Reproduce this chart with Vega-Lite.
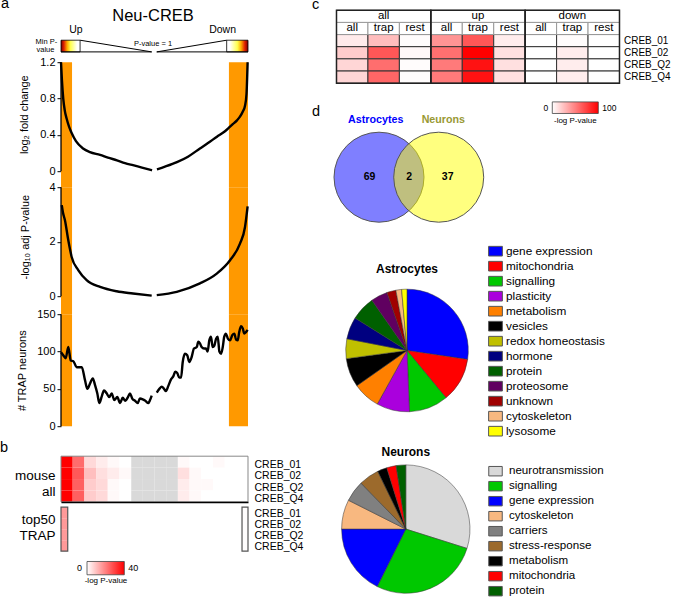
{
"$schema":"https://vega.github.io/schema/vega-lite/v6.json",
"padding":{"left":0,"top":-4.8,"right":0,"bottom":0},
"config":{
 "font":"Liberation Sans",
 "view":{"stroke":null},
 "axis":{"grid":false,"labelFont":"Liberation Sans","titleFont":"Liberation Sans","labelColor":"black","titleColor":"black","tickColor":"black","domainColor":"black","titleFontWeight":"normal","labelOverlap":false},
 "legend":{"labelFont":"Liberation Sans","titleFont":"Liberation Sans","labelColor":"black","titleColor":"black","titleFontWeight":"normal"},
 "text":{"font":"Liberation Sans","color":"black"},
 "title":{"font":"Liberation Sans","fontSize":14.5,"fontWeight":"normal","anchor":"start","frame":"group","color":"black","baseline":"alphabetic","offset":0}
},
"spacing":275.5,
"bounds":"flush",
"resolve":{"scale":{"x":"independent","y":"independent","color":"independent","fill":"independent","theta":"independent"},"axis":{"x":"independent","y":"independent"},"legend":{"color":"independent","fill":"independent"}},
"hconcat":[
{
"vconcat":[
 {
  "width":187,"height":52,
  "title":{"text":"a","dx":-60,"offset":-3.5},
  "layer":[
   {"data":{"values":[{"x0":0,"x1":10.2,"y0":0.198,"y1":0.423}]},
    "mark":{"type":"rect","stroke":"black","strokeWidth":0.8,"fill":{"gradient":"linear","x1":0,"y1":0,"x2":1,"y2":0,"stops":[{"offset":0,"color":"#7a0000"},{"offset":0.15,"color":"#e02000"},{"offset":0.33,"color":"#ffb000"},{"offset":0.5,"color":"#ffff50"},{"offset":0.85,"color":"#ffffff"},{"offset":1,"color":"#ffffff"}]}},
    "encoding":{"x":{"field":"x0","type":"quantitative","scale":{"domain":[0,100],"nice":false},"axis":null},"x2":{"field":"x1"},"y":{"field":"y0","type":"quantitative","scale":{"domain":[0,1],"nice":false},"axis":null},"y2":{"field":"y1"}}},
   {"data":{"values":[{"x0":88.6,"x1":100,"y0":0.198,"y1":0.423}]},
    "mark":{"type":"rect","stroke":"black","strokeWidth":0.8,"fill":{"gradient":"linear","x1":0,"y1":0,"x2":1,"y2":0,"stops":[{"offset":0,"color":"#ffffff"},{"offset":0.15,"color":"#ffffff"},{"offset":0.5,"color":"#ffff50"},{"offset":0.67,"color":"#ffb000"},{"offset":0.85,"color":"#e02000"},{"offset":1,"color":"#7a0000"}]}},
    "encoding":{"x":{"field":"x0","type":"quantitative"},"x2":{"field":"x1"},"y":{"field":"y0","type":"quantitative"},"y2":{"field":"y1"}}},
   {"data":{"values":[{"seg":"L1","x":10.2,"y":0.423},{"seg":"L1","x":48.5,"y":0.198},{"seg":"L2","x":0,"y":0.198},{"seg":"L2","x":48.5,"y":0.198},{"seg":"R1","x":51.2,"y":0.198},{"seg":"R1","x":88.6,"y":0.423},{"seg":"R2","x":51.2,"y":0.198},{"seg":"R2","x":100,"y":0.198}]},
    "mark":{"type":"line","color":"black","strokeWidth":1},
    "encoding":{"x":{"field":"x","type":"quantitative"},"y":{"field":"y","type":"quantitative"},"detail":{"field":"seg"}}},
   {"data":{"values":[{"t":"Neu-CREB","x":49.2,"y":0.885}]},"mark":{"type":"text","fontSize":16.5,"baseline":"middle"},
    "encoding":{"x":{"field":"x","type":"quantitative"},"y":{"field":"y","type":"quantitative"},"text":{"field":"t"}}},
   {"data":{"values":[{"t":"Up","x":8,"y":0.615},{"t":"Down","x":86.4,"y":0.615}]},"mark":{"type":"text","fontSize":10.5,"baseline":"middle"},
    "encoding":{"x":{"field":"x","type":"quantitative"},"y":{"field":"y","type":"quantitative"},"text":{"field":"t"}}},
   {"data":{"values":[{"t":"P-value = 1","x":49.2,"y":0.346},{"t":"Min P-","x":-7.8,"y":0.39},{"t":"value","x":-8.3,"y":0.23}]},"mark":{"type":"text","fontSize":7.5,"baseline":"middle"},
    "encoding":{"x":{"field":"x","type":"quantitative"},"y":{"field":"y","type":"quantitative"},"text":{"field":"t"}}}
  ]
 },
 {
  "width":187,"height":125,
  "layer":[
   {"data":{"values":[{"s":"up","x0":0,"x1":5.9},{"s":"down","x0":89.8,"x1":100}]},"mark":{"type":"rect","color":"#ff9900"},
    "encoding":{"x":{"field":"x0","type":"quantitative","scale":{"domain":[0,100],"nice":false},"axis":null},"x2":{"field":"x1"}}},
   {"data":{"values":[{}]},"mark":{"type":"rule","color":"black","strokeWidth":1.3},
    "encoding":{"x":{"datum":0,"type":"quantitative"},"y":{"datum":0,"type":"quantitative"},"y2":{"datum":1.2}}},
   {"data":{"values":[{"side":"up","x":0,"y":1.2},{"side":"up","x":0.5,"y":1.0},{"side":"up","x":1.2,"y":0.8},{"side":"up","x":2,"y":0.67},{"side":"up","x":3,"y":0.58},{"side":"up","x":4.3,"y":0.49},{"side":"up","x":5.7,"y":0.42},{"side":"up","x":8,"y":0.33},{"side":"up","x":11.8,"y":0.25},{"side":"up","x":15.5,"y":0.21},{"side":"up","x":20.9,"y":0.18},{"side":"up","x":25.1,"y":0.15},{"side":"up","x":29.9,"y":0.12},{"side":"up","x":34.2,"y":0.09},{"side":"up","x":38.5,"y":0.066},{"side":"up","x":43.3,"y":0.04},{"side":"up","x":48.7,"y":0.01},{"side":"down","x":51.3,"y":0.02},{"side":"down","x":55.6,"y":0.05},{"side":"down","x":62,"y":0.1},{"side":"down","x":67.9,"y":0.16},{"side":"down","x":74.3,"y":0.25},{"side":"down","x":78.6,"y":0.31},{"side":"down","x":83.4,"y":0.38},{"side":"down","x":87.7,"y":0.44},{"side":"down","x":90.4,"y":0.49},{"side":"down","x":92,"y":0.52},{"side":"down","x":94.1,"y":0.56},{"side":"down","x":95.7,"y":0.6},{"side":"down","x":97.3,"y":0.66},{"side":"down","x":98.4,"y":0.72},{"side":"down","x":99.2,"y":0.85},{"side":"down","x":99.8,"y":1.2}]},
    "mark":{"type":"line","color":"black","strokeWidth":2.4,"interpolate":"monotone"},
    "encoding":{"x":{"field":"x","type":"quantitative"},"y":{"field":"y","type":"quantitative","scale":{"domain":[-0.176,1.2],"nice":false},"axis":{"values":[0,0.4,0.8,1.2],"format":".1~f","domain":false,"tickSize":4,"labelFontSize":11,"labelPadding":2,"title":"log₂ fold change","titleFontSize":11,"titleX":-37,"titleY":52,"titleBaseline":"middle","titleAlign":"center","titleAngle":-90}},"detail":{"field":"side"}}}
  ]
 },
 {
  "width":187,"height":127,
  "layer":[
   {"data":{"values":[{"s":"up","x0":0,"x1":5.9},{"s":"down","x0":89.8,"x1":100}]},"mark":{"type":"rect","color":"#ff9900"},
    "encoding":{"x":{"field":"x0","type":"quantitative","scale":{"domain":[0,100],"nice":false},"axis":null},"x2":{"field":"x1"}}},
   {"data":{"values":[{}]},"mark":{"type":"rule","color":"black","strokeWidth":1.3},
    "encoding":{"x":{"datum":0,"type":"quantitative"},"y":{"datum":0,"type":"quantitative"},"y2":{"datum":4}}},
   {"data":{"values":[{"side":"up","x":0.4,"y":3.34},{"side":"up","x":1.1,"y":3.05},{"side":"up","x":2.1,"y":2.79},{"side":"up","x":3.9,"y":2.05},{"side":"up","x":5.7,"y":1.44},{"side":"up","x":9.3,"y":0.95},{"side":"up","x":13.7,"y":0.59},{"side":"up","x":20.9,"y":0.34},{"side":"up","x":29.8,"y":0.18},{"side":"up","x":38.5,"y":0.1},{"side":"up","x":48.5,"y":0.02},{"side":"down","x":51.2,"y":0.04},{"side":"down","x":61.9,"y":0.16},{"side":"down","x":74.3,"y":0.47},{"side":"down","x":83.3,"y":0.83},{"side":"down","x":90.4,"y":1.32},{"side":"down","x":95.7,"y":1.93},{"side":"down","x":98.4,"y":2.54},{"side":"down","x":99.8,"y":3.3}]},
    "mark":{"type":"line","color":"black","strokeWidth":2.4,"interpolate":"monotone"},
    "encoding":{"x":{"field":"x","type":"quantitative"},"y":{"field":"y","type":"quantitative","scale":{"domain":[-0.66,4],"nice":false},"axis":{"values":[0,1,2,3,4],"domain":false,"tickSize":4,"labelFontSize":11,"labelPadding":2,"title":"-log₁₀ adj P-value","titleFontSize":11,"titleX":-35.5,"titleY":49.5,"titleBaseline":"middle","titleAlign":"center","titleAngle":-90}},"detail":{"field":"side"}}}
  ]
 },
 {
  "width":187,"height":142,
  "layer":[
   {"data":{"values":[{"s":"up","x0":0,"x1":5.9},{"s":"down","x0":89.8,"x1":100}]},"mark":{"type":"rect","color":"#ff9900"},
    "encoding":{"x":{"field":"x0","type":"quantitative","scale":{"domain":[0,100],"nice":false},"axis":null},"x2":{"field":"x1"},"y":{"datum":0,"type":"quantitative"},"y2":{"datum":150}}},
   {"data":{"values":[{}]},"mark":{"type":"rule","color":"black","strokeWidth":1.3},
    "encoding":{"x":{"datum":0,"type":"quantitative"},"y":{"datum":0,"type":"quantitative"},"y2":{"datum":150}}},
   {"data":{"values":[{"side":"up","x":0,"y":99},{"side":"up","x":1.2,"y":95},{"side":"up","x":2.5,"y":91},{"side":"up","x":3.9,"y":106},{"side":"up","x":5.2,"y":88},{"side":"up","x":6.6,"y":87},{"side":"up","x":8.4,"y":79},{"side":"up","x":11.1,"y":79},{"side":"up","x":12.8,"y":62},{"side":"up","x":14.1,"y":50},{"side":"up","x":15.5,"y":57},{"side":"up","x":17,"y":64},{"side":"up","x":18.2,"y":55},{"side":"up","x":19.4,"y":44},{"side":"up","x":20.5,"y":31},{"side":"up","x":21.8,"y":40},{"side":"up","x":23,"y":48},{"side":"up","x":24.4,"y":44},{"side":"up","x":25.8,"y":39},{"side":"up","x":27.1,"y":44},{"side":"up","x":28.5,"y":35},{"side":"up","x":30.1,"y":39},{"side":"up","x":31.6,"y":31},{"side":"up","x":33,"y":38},{"side":"up","x":34.4,"y":34},{"side":"up","x":35.8,"y":39},{"side":"up","x":36.9,"y":44},{"side":"up","x":38.1,"y":37},{"side":"up","x":39.6,"y":34},{"side":"up","x":41,"y":31},{"side":"up","x":42.2,"y":37},{"side":"up","x":43.7,"y":36},{"side":"up","x":45.1,"y":34},{"side":"up","x":46.7,"y":31},{"side":"up","x":47.6,"y":35},{"side":"up","x":48.5,"y":41},{"side":"down","x":51.2,"y":45},{"side":"down","x":52.6,"y":50},{"side":"down","x":53.9,"y":53},{"side":"down","x":55.1,"y":50},{"side":"down","x":56.1,"y":47},{"side":"down","x":57.4,"y":54},{"side":"down","x":58.7,"y":62},{"side":"down","x":60.1,"y":67},{"side":"down","x":61.1,"y":73},{"side":"down","x":62.2,"y":71},{"side":"down","x":63.3,"y":65},{"side":"down","x":64.2,"y":65},{"side":"down","x":65.1,"y":86},{"side":"down","x":66.3,"y":97},{"side":"down","x":67.5,"y":95},{"side":"down","x":68.6,"y":86},{"side":"down","x":69.9,"y":93},{"side":"down","x":71.1,"y":104},{"side":"down","x":72.6,"y":106},{"side":"down","x":73.4,"y":113},{"side":"down","x":74.3,"y":111},{"side":"down","x":75.2,"y":106},{"side":"down","x":76.5,"y":104},{"side":"down","x":77.5,"y":104},{"side":"down","x":78.4,"y":100},{"side":"down","x":79.3,"y":115},{"side":"down","x":80.2,"y":120},{"side":"down","x":81.1,"y":106},{"side":"down","x":82,"y":108},{"side":"down","x":82.9,"y":117},{"side":"down","x":83.8,"y":120},{"side":"down","x":84.7,"y":100},{"side":"down","x":85.6,"y":97},{"side":"down","x":86.5,"y":106},{"side":"down","x":87.3,"y":120},{"side":"down","x":88.2,"y":124},{"side":"down","x":89.3,"y":117},{"side":"down","x":90.4,"y":115},{"side":"down","x":91.6,"y":122},{"side":"down","x":92.7,"y":124},{"side":"down","x":93.6,"y":116},{"side":"down","x":94.5,"y":115},{"side":"down","x":95.3,"y":126},{"side":"down","x":96.3,"y":134},{"side":"down","x":97.2,"y":131},{"side":"down","x":98,"y":124},{"side":"down","x":98.9,"y":126},{"side":"down","x":99.8,"y":129}]},
    "mark":{"type":"line","color":"black","strokeWidth":2.4,"interpolate":"monotone"},
    "encoding":{"x":{"field":"x","type":"quantitative"},"y":{"field":"y","type":"quantitative","scale":{"domain":[-40.2,150],"nice":false},"axis":{"values":[0,50,100,150],"domain":false,"tickSize":4,"labelFontSize":11,"labelPadding":2,"title":"# TRAP neurons","titleFontSize":11,"titleX":-39,"titleY":56,"titleBaseline":"middle","titleAlign":"center","titleAngle":-90}},"detail":{"field":"side"}}}
  ]
 },
 {
  "width":187,"height":45.7,
  "title":{"text":"b","dx":-61,"offset":0.5},
  "layer":[
   {"data":{"name":"b1"},"transform":[{"filter":{"field":"v","valid":false}}],"mark":{"type":"rect","color":"#d9d9d9"},
    "encoding":{"x":{"field":"c","type":"ordinal","scale":{"domain":[1,2,3,4,5,6,7,8,9,10,11,12,13,14,15,16],"paddingInner":0,"paddingOuter":0},"axis":{"labels":false,"ticks":false,"title":null,"domainColor":"black","domainWidth":1.5,"zindex":2}},
     "y":{"field":"r","type":"nominal","scale":{"domain":["CREB_01","CREB_02","CREB_Q2","CREB_Q4"],"paddingInner":0,"paddingOuter":0},"axis":{"orient":"left","labels":false,"ticks":false,"domain":false,"title":["mouse","all"],"titleAngle":0,"titleAlign":"right","titleBaseline":"middle","titleX":-6,"titleY":19,"titleFontSize":13.5,"titleLineHeight":16}}}},
   {"data":{"name":"b1"},"transform":[{"filter":{"field":"v","valid":true}}],"mark":{"type":"rect"},
    "encoding":{"x":{"field":"c","type":"ordinal","axis":{"labels":false,"ticks":false,"title":null,"domainColor":"black","domainWidth":1.5,"zindex":2}},
     "y":{"field":"r","type":"nominal","axis":{"orient":"right","ticks":false,"domain":false,"labelFontSize":10.5,"labelPadding":6,"title":null,"labelOffset":3}},
     "color":{"field":"v","type":"quantitative","scale":{"domain":[0,40],"range":["#ffffff","#ff0000"],"interpolate":"rgb"},"legend":null}}},
   {"data":{"values":[{}]},"mark":{"type":"rect","filled":false,"color":"#888","strokeWidth":1},"encoding":{}}
  ],
  "resolve":{"axis":{"y":"independent"}}
 },
 {
  "width":187,"height":49,
  "layer":[
   {"data":{"values":[{"r":"CREB_01","from":0,"to":3.6,"v":16},{"r":"CREB_02","from":0,"to":3.6,"v":16},{"r":"CREB_Q2","from":0,"to":3.6,"v":16},{"r":"CREB_Q4","from":0,"to":3.6,"v":16},{"r":"CREB_01","from":96.8,"to":100,"v":0.3},{"r":"CREB_02","from":96.8,"to":100,"v":0.3},{"r":"CREB_Q2","from":96.8,"to":100,"v":0.3},{"r":"CREB_Q4","from":96.8,"to":100,"v":0.3}]},
    "mark":{"type":"rect"},
    "encoding":{"x":{"field":"from","type":"quantitative","scale":{"domain":[0,100],"nice":false},"axis":null},"x2":{"field":"to"},
     "y":{"field":"r","type":"nominal","scale":{"domain":["CREB_01","CREB_02","CREB_Q2","CREB_Q4"],"paddingInner":0,"paddingOuter":0.2273,"align":1},"axis":{"orient":"right","ticks":false,"domain":false,"labelFontSize":10.5,"labelPadding":6,"title":null,"labelOffset":1}},
     "color":{"field":"v","type":"quantitative","scale":{"domain":[0,40],"range":["#ffffff","#ff0000"],"interpolate":"rgb"},
      "legend":{"orient":"none","legendX":24,"legendY":59.3,"direction":"horizontal","gradientLength":37.3,"gradientThickness":13.3,"values":[0,40],"title":"-log P-value","titleOrient":"bottom","titleFontSize":8,"titlePadding":2,"titleAnchor":"middle","labelFontSize":9,"padding":0,"gradientStrokeColor":"#444","gradientStrokeWidth":0.8,
       "encode":{"labels":{"update":{"align":{"signal":"datum.value === 0 ? 'right' : 'left'"},"dx":{"signal":"datum.value === 0 ? -5 : 4"},"baseline":{"value":"middle"},"y":{"value":6.6}}}}}}}},
   {"data":{"values":[{"from":0,"to":3.6,"r0":"CREB_01","r1":"CREB_Q4"},{"from":96.8,"to":100,"r0":"CREB_01","r1":"CREB_Q4"}]},
    "mark":{"type":"rect","filled":false,"color":"#555","strokeWidth":1.2},
    "encoding":{"x":{"field":"from","type":"quantitative"},"x2":{"field":"to"},
     "y":{"field":"r0","type":"nominal","bandPosition":0,"axis":{"orient":"left","labels":false,"ticks":false,"domain":false,"title":["top50","TRAP"],"titleAngle":0,"titleAlign":"right","titleBaseline":"middle","titleX":-6,"titleY":17.5,"titleFontSize":13.5,"titleLineHeight":16}},
     "y2":{"field":"r1","bandPosition":1}}}
  ],
  "resolve":{"axis":{"y":"independent"}}
 }
],
"spacing":0,"bounds":"flush",
"resolve":{"scale":{"x":"independent","y":"independent","color":"independent","fill":"independent","theta":"independent"},"axis":{"x":"independent","y":"independent"},"legend":{"color":"independent","fill":"independent"}}
},
{
"vconcat":[
 {
  "width":283,"height":73,
  "title":{"text":"c","dx":-24.5,"offset":-3.5},
  "layer":[
   {"data":{"values":[
     {"col":"all|all","r":"CREB_01","v":8},{"col":"all|trap","r":"CREB_01","v":26},{"col":"all|rest","r":"CREB_01","v":1},{"col":"up|all","r":"CREB_01","v":42},{"col":"up|trap","r":"CREB_01","v":66},{"col":"up|rest","r":"CREB_01","v":7},{"col":"down|all","r":"CREB_01","v":0},{"col":"down|trap","r":"CREB_01","v":1},{"col":"down|rest","r":"CREB_01","v":0},
     {"col":"all|all","r":"CREB_02","v":20},{"col":"all|trap","r":"CREB_02","v":66},{"col":"all|rest","r":"CREB_02","v":3},{"col":"up|all","r":"CREB_02","v":56},{"col":"up|trap","r":"CREB_02","v":100},{"col":"up|rest","r":"CREB_02","v":12},{"col":"down|all","r":"CREB_02","v":0},{"col":"down|trap","r":"CREB_02","v":7},{"col":"down|rest","r":"CREB_02","v":0},
     {"col":"all|all","r":"CREB_Q2","v":16},{"col":"all|trap","r":"CREB_Q2","v":57},{"col":"all|rest","r":"CREB_Q2","v":1},{"col":"up|all","r":"CREB_Q2","v":52},{"col":"up|trap","r":"CREB_Q2","v":93},{"col":"up|rest","r":"CREB_Q2","v":12},{"col":"down|all","r":"CREB_Q2","v":0},{"col":"down|trap","r":"CREB_Q2","v":7},{"col":"down|rest","r":"CREB_Q2","v":0},
     {"col":"all|all","r":"CREB_Q4","v":16},{"col":"all|trap","r":"CREB_Q4","v":60},{"col":"all|rest","r":"CREB_Q4","v":1},{"col":"up|all","r":"CREB_Q4","v":52},{"col":"up|trap","r":"CREB_Q4","v":93},{"col":"up|rest","r":"CREB_Q4","v":12},{"col":"down|all","r":"CREB_Q4","v":0},{"col":"down|trap","r":"CREB_Q4","v":7},{"col":"down|rest","r":"CREB_Q4","v":0}]},
    "mark":{"type":"rect","stroke":"#333","strokeWidth":1},
    "encoding":{"x":{"field":"col","type":"nominal","scale":{"domain":["all|all","all|trap","all|rest","up|all","up|trap","up|rest","down|all","down|trap","down|rest"],"paddingInner":0,"paddingOuter":0},"axis":null},
     "y":{"field":"r","type":"nominal","scale":{"domain":["g","h","CREB_01","CREB_02","CREB_Q2","CREB_Q4"],"paddingInner":0,"paddingOuter":0},"axis":{"orient":"right","values":["CREB_01","CREB_02","CREB_Q2","CREB_Q4"],"ticks":false,"domain":false,"labelFontSize":10,"labelPadding":4,"title":null}},
     "color":{"field":"v","type":"quantitative","scale":{"domain":[0,100],"range":["#ffffff","#ff0000"],"interpolate":"rgb"},
      "legend":{"orient":"none","legendX":215.8,"legendY":91.7,"direction":"horizontal","gradientLength":46,"gradientThickness":11.6,"values":[0,100],"title":"-log P-value","titleOrient":"bottom","titleFontSize":8,"titlePadding":3,"titleAnchor":"middle","labelFontSize":8.5,"padding":0,"gradientStrokeColor":"#444","gradientStrokeWidth":0.8,
       "encode":{"labels":{"update":{"align":{"signal":"datum.value === 0 ? 'right' : 'left'"},"dx":{"signal":"datum.value === 0 ? -4 : 4"},"baseline":{"value":"middle"},"y":{"value":5.8}}}}}}}},
   {"data":{"values":[{"col":"all|all","r":"h","lab":"all"},{"col":"all|trap","r":"h","lab":"trap"},{"col":"all|rest","r":"h","lab":"rest"},{"col":"up|all","r":"h","lab":"all"},{"col":"up|trap","r":"h","lab":"trap"},{"col":"up|rest","r":"h","lab":"rest"},{"col":"down|all","r":"h","lab":"all"},{"col":"down|trap","r":"h","lab":"trap"},{"col":"down|rest","r":"h","lab":"rest"}]},
    "layer":[
     {"mark":{"type":"rect","fill":"white","stroke":"#999","strokeWidth":1},
      "encoding":{"x":{"field":"col","type":"nominal","scale":{"domain":["all|all","all|trap","all|rest","up|all","up|trap","up|rest","down|all","down|trap","down|rest"],"paddingInner":0,"paddingOuter":0},"axis":null},"y":{"field":"r","type":"nominal"}}},
     {"mark":{"type":"text","fontSize":11.5,"baseline":"middle"},
      "encoding":{"x":{"field":"col","type":"nominal","axis":null},"y":{"field":"r","type":"nominal"},"text":{"field":"lab"}}}
    ]},
   {"data":{"values":[{"g":"all","r":"g"},{"g":"up","r":"g"},{"g":"down","r":"g"}]},
    "layer":[
     {"mark":{"type":"rect","fill":"white","stroke":"#999","strokeWidth":1},
      "encoding":{"x":{"field":"g","type":"nominal","sort":null,"scale":{"domain":["all","up","down"],"paddingInner":0,"paddingOuter":0},"axis":null},"y":{"field":"r","type":"nominal"}}},
     {"mark":{"type":"text","fontSize":11.5,"baseline":"middle"},
      "encoding":{"x":{"field":"g","type":"nominal","sort":null,"axis":null},"y":{"field":"r","type":"nominal"},"text":{"field":"g"}}},
     {"mark":{"type":"rect","filled":false,"color":"#222","strokeWidth":1.5},
      "encoding":{"x":{"field":"g","type":"nominal","sort":null,"axis":null}}}
    ]}
  ],
  "resolve":{"scale":{"x":"independent"}}
 },
 {
  "width":160,"height":110,
  "title":{"text":"d","dx":-24.5,"offset":-6.3},
  "layer":[
   {"data":{"values":[{"set":"Astrocytes","x":0,"y":0.5},{"set":"Neurons","x":1,"y":0.5}]},
    "mark":{"type":"point","shape":"circle","filled":true,"size":8100,"opacity":1,"fillOpacity":0.5,"stroke":"#555","strokeWidth":1,"strokeOpacity":1},
    "encoding":{"x":{"field":"x","type":"quantitative","scale":{"domain":[-0.712,1.968],"nice":false,"zero":false},"axis":null},"y":{"field":"y","type":"quantitative","scale":{"domain":[0,1],"nice":false},"axis":null},
     "fill":{"field":"set","type":"nominal","scale":{"domain":["Astrocytes","Neurons"],"range":["#0000ff","#ffff00"]},"legend":null}}},
   {"data":{"values":[{"n":"69","x":-0.16,"y":0.5},{"n":"2","x":0.505,"y":0.5},{"n":"37","x":1.15,"y":0.5}]},
    "mark":{"type":"text","fontSize":10.5,"fontWeight":"bold","baseline":"middle"},
    "encoding":{"x":{"field":"x","type":"quantitative"},"y":{"field":"y","type":"quantitative"},"text":{"field":"n"}}},
   {"data":{"values":[{"set":"Astrocytes","x":-0.055,"y":1.023},{"set":"Neurons","x":1.077,"y":1.023}]},
    "mark":{"type":"text","fontSize":10.7,"fontWeight":"bold","baseline":"middle"},
    "encoding":{"x":{"field":"x","type":"quantitative"},"y":{"field":"y","type":"quantitative"},"text":{"field":"set"},
     "color":{"field":"set","type":"nominal","scale":{"domain":["Astrocytes","Neurons"],"range":["#0000ff","#999933"]},"legend":null}}}
  ]
 },
 {
  "width":141,"height":158.6,
  "title":{"text":"Astrocytes","anchor":"middle","fontSize":12,"fontWeight":"bold","baseline":"middle","offset":-37.5},
  "data":{"values":[
   {"cat":"gene expression","p":27.3,"k":1},{"cat":"mitochondria","p":11.7,"k":2},{"cat":"signalling","p":10.3,"k":3},{"cat":"plasticity","p":8.7,"k":4},{"cat":"metabolism","p":7.2,"k":5},{"cat":"vesicles","p":7.6,"k":6},{"cat":"redox homeostasis","p":5.2,"k":7},{"cat":"hormone","p":5.8,"k":8},{"cat":"protein","p":6.4,"k":9},{"cat":"proteosome","p":4.4,"k":10},{"cat":"unknown","p":2.4,"k":11},{"cat":"cytoskeleton","p":1.5,"k":12},{"cat":"lysosome","p":1.4,"k":13}]},
  "mark":{"type":"arc","outerRadius":61.3,"stroke":"#333","strokeWidth":0.5},
  "encoding":{"theta":{"field":"p","type":"quantitative","stack":true},"order":{"field":"k","type":"quantitative"},
   "color":{"field":"cat","type":"nominal","sort":null,"scale":{"domain":["gene expression","mitochondria","signalling","plasticity","metabolism","vesicles","redox homeostasis","hormone","protein","proteosome","unknown","cytoskeleton","lysosome"],"range":["#0000ff","#ff0000","#00c800","#aa00dd","#ff8000","#000000","#c0c000","#000080","#006000","#600060","#a00000","#f8b880","#ffff00"]},
    "legend":{"orient":"none","legendX":151.5,"legendY":-27.5,"title":null,"symbolType":"M-1,-0.7L1,-0.7L1,0.7L-1,0.7Z","symbolSize":190,"symbolStrokeColor":"#555","symbolStrokeWidth":1,"labelFontSize":11.8,"labelOffset":3,"rowPadding":0,"padding":0}}}
 },
 {
  "width":138.6,"height":119.8,
  "title":{"text":"Neurons","anchor":"middle","fontSize":12,"fontWeight":"bold","baseline":"middle","offset":0},
  "data":{"values":[
   {"cat":"neurotransmission","p":29.9,"k":1},{"cat":"signalling","p":27.5,"k":2},{"cat":"gene expression","p":17.7,"k":3},{"cat":"cytoskeleton","p":7.4,"k":4},{"cat":"carriers","p":5.3,"k":5},{"cat":"stress-response","p":5.1,"k":6},{"cat":"metabolism","p":2.4,"k":7},{"cat":"mitochondria","p":2.4,"k":8},{"cat":"protein","p":2.4,"k":9}]},
  "mark":{"type":"arc","outerRadius":64.2,"stroke":"#333","strokeWidth":0.5},
  "encoding":{"theta":{"field":"p","type":"quantitative","stack":true},"order":{"field":"k","type":"quantitative"},
   "color":{"field":"cat","type":"nominal","sort":null,"scale":{"domain":["neurotransmission","signalling","gene expression","cytoskeleton","carriers","stress-response","metabolism","mitochondria","protein"],"range":["#d9d9d9","#00c800","#0000ff","#f8b880","#808080","#9c6a2c","#000000","#ff0000","#006000"]},
    "legend":{"orient":"none","legendX":151.5,"legendY":-5.5,"title":null,"symbolType":"M-1,-0.7L1,-0.7L1,0.7L-1,0.7Z","symbolSize":182,"symbolStrokeColor":"#555","symbolStrokeWidth":1,"labelFontSize":11.6,"labelOffset":6,"rowPadding":0,"padding":0}}}
 }
],
"spacing":39,"bounds":"flush",
"resolve":{"scale":{"x":"independent","y":"independent","color":"independent","fill":"independent","theta":"independent"},"axis":{"x":"independent","y":"independent"},"legend":{"color":"independent","fill":"independent"}}
}
],
"datasets":{"b1":[
 {"c":1,"r":"CREB_01","v":40},{"c":1,"r":"CREB_02","v":40},{"c":1,"r":"CREB_Q2","v":40},{"c":1,"r":"CREB_Q4","v":40},
 {"c":2,"r":"CREB_01","v":23},{"c":2,"r":"CREB_02","v":26},{"c":2,"r":"CREB_Q2","v":25},{"c":2,"r":"CREB_Q4","v":25},
 {"c":3,"r":"CREB_01","v":6},{"c":3,"r":"CREB_02","v":10},{"c":3,"r":"CREB_Q2","v":8},{"c":3,"r":"CREB_Q4","v":8},
 {"c":4,"r":"CREB_01","v":3},{"c":4,"r":"CREB_02","v":5},{"c":4,"r":"CREB_Q2","v":6},{"c":4,"r":"CREB_Q4","v":6},
 {"c":5,"r":"CREB_01","v":1},{"c":5,"r":"CREB_02","v":3},{"c":5,"r":"CREB_Q2","v":1},{"c":5,"r":"CREB_Q4","v":1},
 {"c":6,"r":"CREB_01","v":0},{"c":6,"r":"CREB_02","v":1},{"c":6,"r":"CREB_Q2","v":0},{"c":6,"r":"CREB_Q4","v":0},
 {"c":7,"r":"CREB_01","v":null},{"c":7,"r":"CREB_02","v":null},{"c":7,"r":"CREB_Q2","v":null},{"c":7,"r":"CREB_Q4","v":null},
 {"c":8,"r":"CREB_01","v":null},{"c":8,"r":"CREB_02","v":null},{"c":8,"r":"CREB_Q2","v":null},{"c":8,"r":"CREB_Q4","v":null},
 {"c":9,"r":"CREB_01","v":null},{"c":9,"r":"CREB_02","v":null},{"c":9,"r":"CREB_Q2","v":null},{"c":9,"r":"CREB_Q4","v":null},
 {"c":10,"r":"CREB_01","v":null},{"c":10,"r":"CREB_02","v":null},{"c":10,"r":"CREB_Q2","v":null},{"c":10,"r":"CREB_Q4","v":null},
 {"c":11,"r":"CREB_01","v":1},{"c":11,"r":"CREB_02","v":5},{"c":11,"r":"CREB_Q2","v":3},{"c":11,"r":"CREB_Q4","v":3},
 {"c":12,"r":"CREB_01","v":0},{"c":12,"r":"CREB_02","v":1},{"c":12,"r":"CREB_Q2","v":1},{"c":12,"r":"CREB_Q4","v":1},
 {"c":13,"r":"CREB_01","v":0},{"c":13,"r":"CREB_02","v":0},{"c":13,"r":"CREB_Q2","v":1},{"c":13,"r":"CREB_Q4","v":0},
 {"c":14,"r":"CREB_01","v":1},{"c":14,"r":"CREB_02","v":0},{"c":14,"r":"CREB_Q2","v":0},{"c":14,"r":"CREB_Q4","v":0},
 {"c":15,"r":"CREB_01","v":0},{"c":15,"r":"CREB_02","v":0},{"c":15,"r":"CREB_Q2","v":0},{"c":15,"r":"CREB_Q4","v":0},
 {"c":16,"r":"CREB_01","v":0},{"c":16,"r":"CREB_02","v":0},{"c":16,"r":"CREB_Q2","v":0},{"c":16,"r":"CREB_Q4","v":0}
]}
}
